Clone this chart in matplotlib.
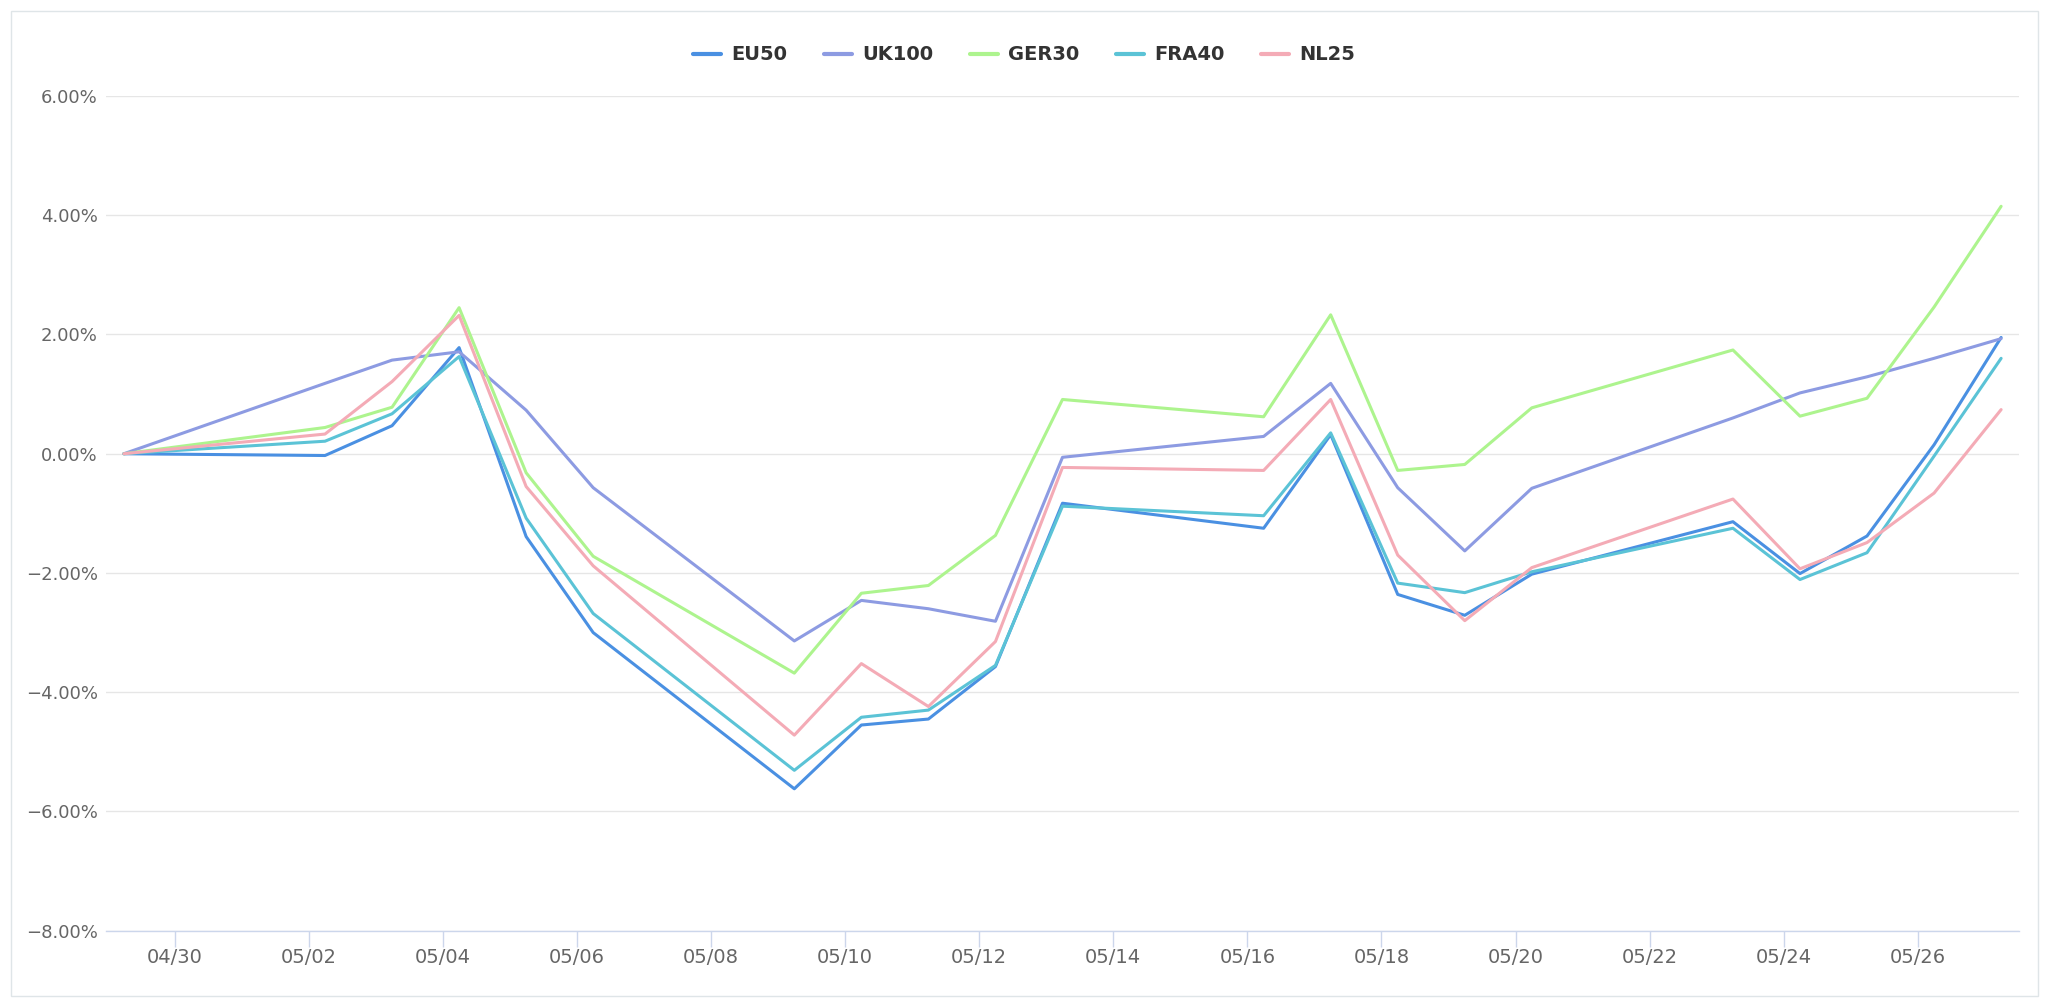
import matplotlib
matplotlib.use("Agg")
import matplotlib.pyplot as plt
import matplotlib.dates as mdates
from matplotlib.patches import Rectangle
from matplotlib.ticker import FuncFormatter
import pandas as pd

# ---------------- data ----------------
dates = ["2022-04-29", "2022-05-02", "2022-05-03", "2022-05-04", "2022-05-05",
         "2022-05-06", "2022-05-09", "2022-05-10", "2022-05-11", "2022-05-12",
         "2022-05-13", "2022-05-16", "2022-05-17", "2022-05-18", "2022-05-19",
         "2022-05-20", "2022-05-23", "2022-05-24", "2022-05-25", "2022-05-26",
         "2022-05-27"]

eu50 = [0, -0.03, 0.47, 1.78, -1.39, -3.00, -5.62, -4.55, -4.45, -3.57, -0.83,
        -1.25, 0.32, -2.36, -2.71, -2.02, -1.14, -2.01, -1.38, 0.15, 1.95]
uk100 = [0, 1.18, 1.57, 1.71, 0.73, -0.57, -3.14, -2.46, -2.60, -2.81, -0.06,
         0.29, 1.18, -0.57, -1.63, -0.58, 0.60, 1.02, 1.29, 1.60, 1.93]
ger30 = [0, 0.44, 0.78, 2.45, -0.32, -1.72, -3.68, -2.34, -2.21, -1.37, 0.91,
         0.62, 2.33, -0.28, -0.18, 0.77, 1.74, 0.63, 0.93, 2.46, 4.15]
fra40 = [0, 0.21, 0.67, 1.63, -1.08, -2.68, -5.31, -4.42, -4.30, -3.55, -0.88,
         -1.04, 0.35, -2.17, -2.33, -1.98, -1.25, -2.11, -1.66, -0.04, 1.60]
nl25 = [0, 0.33, 1.21, 2.32, -0.55, -1.88, -4.72, -3.52, -4.24, -3.15, -0.23,
        -0.28, 0.91, -1.70, -2.80, -1.91, -0.76, -1.93, -1.49, -0.66, 0.74]

series_names = ["EU50", "UK100", "GER30", "FRA40", "NL25"]
series_values = [eu50, uk100, ger30, fra40, nl25]
series_colors = ["#4a90e2", "#8d9be2", "#adf48e", "#5bc3d6", "#f4abb6"]

tick_dates = ["2022-04-30", "2022-05-02", "2022-05-04", "2022-05-06", "2022-05-08",
              "2022-05-10", "2022-05-12", "2022-05-14", "2022-05-16", "2022-05-18",
              "2022-05-20", "2022-05-22", "2022-05-24", "2022-05-26"]
y_ticks = [-8, -6, -4, -2, 0, 2, 4, 6]

# ---------------- figure ----------------
W, H = 2048, 1007
fig = plt.figure(figsize=(W / 100, H / 100), dpi=100)
fig.patch.set_facecolor("white")

left, right = 106 / W, 2019 / W
bottom, top = (H - 930.7) / H, (H - 96) / H
ax = fig.add_axes([left, bottom, right - left, top - bottom])

x = pd.to_datetime(dates) + pd.Timedelta(hours=5, minutes=50)

for name, vals, col in zip(series_names, series_values, series_colors):
    ax.plot(x, vals, color=col, lw=2.2, label=name, solid_joinstyle="round",
            solid_capstyle="round")

pad = pd.Timedelta(hours=6.4)
ax.set_xlim(x[0] - pad, x[-1] + pad)
ax.set_ylim(-8, 6)

ax.set_yticks(y_ticks)
ax.yaxis.set_major_formatter(FuncFormatter(
    lambda v, p: ("\u2212" if v < 0 else "") + f"{abs(v):.2f}%"))
ax.set_xticks(pd.to_datetime(tick_dates))
ax.xaxis.set_major_formatter(mdates.DateFormatter("%m/%d"))

ax.yaxis.grid(True, color="#e6e6e6", lw=1.0)
ax.set_axisbelow(True)
for s in ["top", "right", "left"]:
    ax.spines[s].set_visible(False)
ax.spines["bottom"].set_color("#ccd6eb")
ax.spines["bottom"].set_linewidth(1.0)

ax.tick_params(axis="y", length=0, pad=6, labelsize=13, labelcolor="#666666")
ax.tick_params(axis="x", length=11.5, width=1.0, color="#ccd6eb", pad=1,
               labelsize=14, labelcolor="#666666", direction="out")

leg = fig.legend(loc="center", bbox_to_anchor=(0.5, (H - 55) / H), ncol=5,
                 frameon=False, handlelength=1.45, handletextpad=0.5,
                 columnspacing=1.9, prop={"weight": "bold", "size": 14})
for t in leg.get_texts():
    t.set_color("#333333")
for l in leg.get_lines():
    l.set_linewidth(3.0)

# outer border
fig.patches.append(Rectangle((10.7 / W, (H - 995.5) / H), (2038 - 10.7) / W,
                             (995.5 - 11) / H, transform=fig.transFigure,
                             fill=False, ec="#dfe5e8", lw=1.0))

fig.savefig("out.png", dpi=100)
